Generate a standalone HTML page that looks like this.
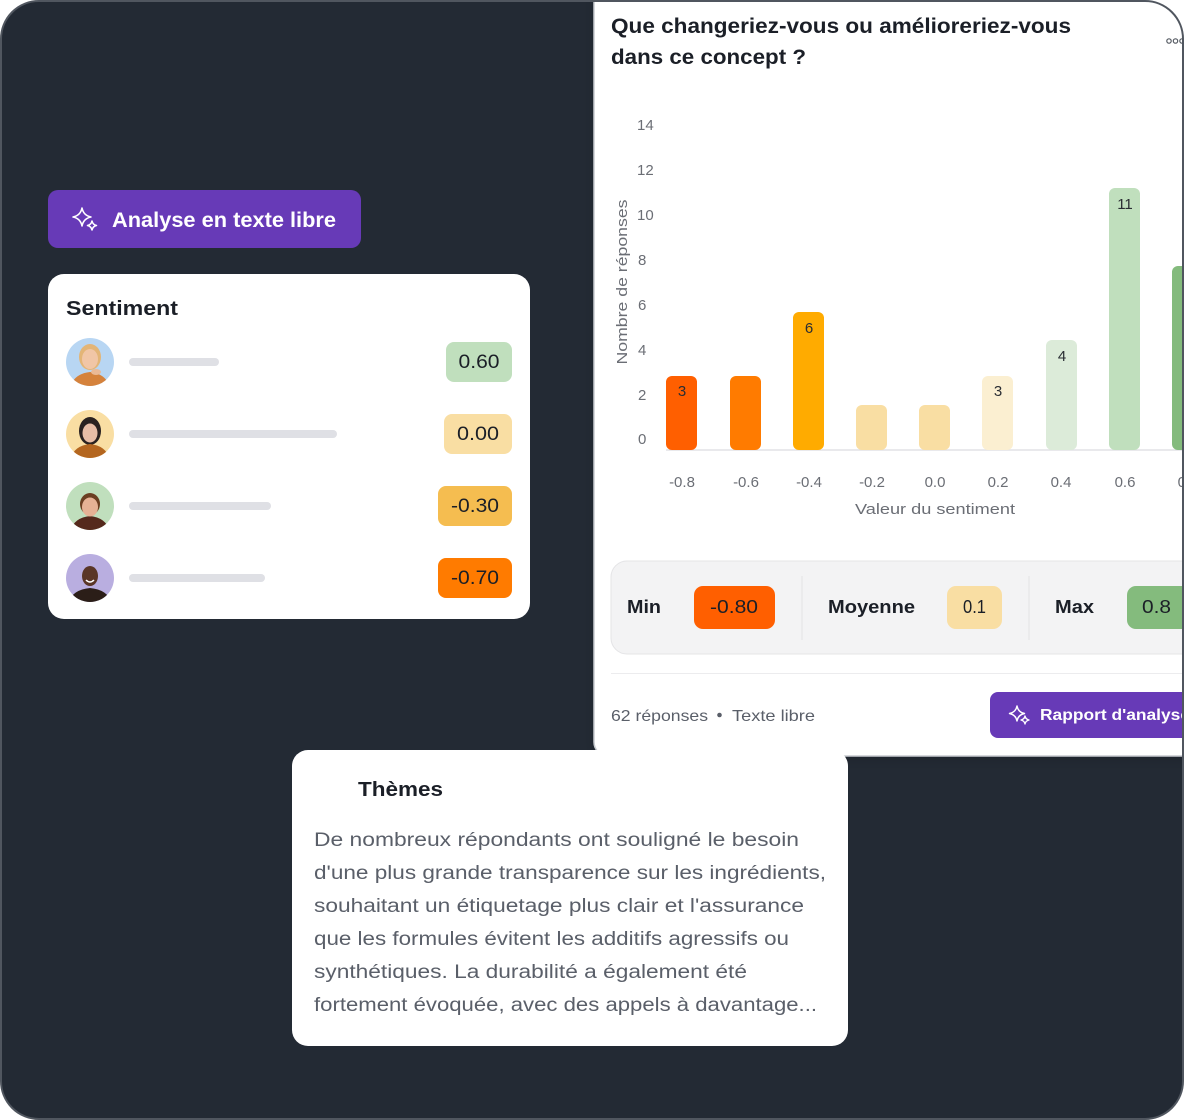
<!DOCTYPE html>
<html><head><meta charset="utf-8"><style>
html,body{margin:0;padding:0;background:#fff;}
svg{display:block;}
text{font-family:"Liberation Sans",sans-serif;}
</style></head><body>
<svg width="1184" height="1120" viewBox="0 0 1184 1120" xmlns="http://www.w3.org/2000/svg">
<defs>
  <clipPath id="frame"><rect x="1" y="1" width="1182" height="1118" rx="38"/></clipPath>
  <clipPath id="av1"><circle cx="90" cy="362" r="24"/></clipPath>
  <clipPath id="av2"><circle cx="90" cy="434" r="24"/></clipPath>
  <clipPath id="av3"><circle cx="90" cy="506" r="24"/></clipPath>
  <clipPath id="av4"><circle cx="90" cy="578" r="24"/></clipPath>
  <filter id="sh" x="-10%" y="-10%" width="120%" height="120%">
    <feDropShadow dx="0" dy="4" stdDeviation="6" flood-color="#000" flood-opacity="0.12"/>
  </filter>
</defs>

<rect x="1" y="1" width="1182" height="1118" rx="38" fill="#232a34"/>
<g clip-path="url(#frame)">

  <!-- Purple button -->
  <rect x="48" y="190" width="313" height="58" rx="10" fill="#673ab7"/>
  <g fill="none" stroke="#fff" stroke-width="1.6" stroke-linejoin="round">
    <path d="M82 208 Q83.5 215.5 91 217 Q83.5 218.5 82 226 Q80.5 218.5 73 217 Q80.5 215.5 82 208 Z"/>
    <path d="M92 221 Q92.8 224.7 96.5 225.5 Q92.8 226.3 92 230 Q91.2 226.3 87.5 225.5 Q91.2 224.7 92 221 Z"/>
  </g>
  <text x="112" y="227" font-size="21" font-weight="700" fill="#fff" textLength="224" lengthAdjust="spacingAndGlyphs">Analyse en texte libre</text>

  <!-- Sentiment card -->
  <rect x="48" y="274" width="482" height="345" rx="16" fill="#fff"/>
  <text x="66" y="315" font-size="20" font-weight="700" fill="#1b1f27" textLength="112" lengthAdjust="spacingAndGlyphs">Sentiment</text>

  <!-- avatar 1 -->
  <g clip-path="url(#av1)">
    <rect x="66" y="338" width="48" height="48" fill="#b8d6f3"/>
    <ellipse cx="90" cy="357" rx="11" ry="13" fill="#e3b577"/>
    <path d="M70 390 Q72 374 90 372 Q108 374 110 390 Z" fill="#d5823c"/>
    <ellipse cx="90" cy="359" rx="8" ry="10" fill="#f1c6a6"/>
    <ellipse cx="96" cy="372" rx="5" ry="3" fill="#eab996"/>
  </g>
  <!-- avatar 2 -->
  <g clip-path="url(#av2)">
    <rect x="66" y="410" width="48" height="48" fill="#f9dea3"/>
    <ellipse cx="90" cy="431" rx="11" ry="14" fill="#2a2220"/>
    <path d="M70 462 Q72 446 90 444 Q108 446 110 462 Z" fill="#b4661f"/>
    <ellipse cx="90" cy="433" rx="7.5" ry="9.5" fill="#e8bea6"/>
  </g>
  <!-- avatar 3 -->
  <g clip-path="url(#av3)">
    <rect x="66" y="482" width="48" height="48" fill="#c0dfbd"/>
    <path d="M70 534 Q72 518 90 516 Q108 518 110 534 Z" fill="#55291c"/>
    <ellipse cx="90" cy="504" rx="10" ry="11" fill="#6b3f22"/>
    <ellipse cx="90" cy="507" rx="8" ry="9.5" fill="#e6b295"/>
  </g>
  <!-- avatar 4 -->
  <g clip-path="url(#av4)">
    <rect x="66" y="554" width="48" height="48" fill="#b9aee0"/>
    <path d="M68 606 Q70 590 90 588 Q110 590 112 606 Z" fill="#2b1e18"/>
    <ellipse cx="90" cy="576" rx="8" ry="10" fill="#5a3627"/>
    <path d="M86 580 Q90 584 94 580" stroke="#fff" stroke-width="1.5" fill="none"/>
  </g>

  <rect x="129" y="358" width="90" height="8" rx="4" fill="#dfe0e5"/>
  <rect x="129" y="430" width="208" height="8" rx="4" fill="#dfe0e5"/>
  <rect x="129" y="502" width="142" height="8" rx="4" fill="#dfe0e5"/>
  <rect x="129" y="574" width="136" height="8" rx="4" fill="#dfe0e5"/>

  <rect x="446" y="342" width="66" height="40" rx="8" fill="#c0dfbd"/>
  <text x="479" y="368" font-size="19" fill="#1b1f27" text-anchor="middle" textLength="41" lengthAdjust="spacingAndGlyphs">0.60</text>
  <rect x="444" y="414" width="68" height="40" rx="8" fill="#f9dea3"/>
  <text x="478" y="440" font-size="19" fill="#1b1f27" text-anchor="middle" textLength="42" lengthAdjust="spacingAndGlyphs">0.00</text>
  <rect x="438" y="486" width="74" height="40" rx="8" fill="#f5bd50"/>
  <text x="475" y="512" font-size="19" fill="#1b1f27" text-anchor="middle" textLength="48" lengthAdjust="spacingAndGlyphs">-0.30</text>
  <rect x="438" y="558" width="74" height="40" rx="8" fill="#ff7b00"/>
  <text x="475" y="584" font-size="19" fill="#1b1f27" text-anchor="middle" textLength="48" lengthAdjust="spacingAndGlyphs">-0.70</text>

  <!-- Chart card -->
  <rect x="594" y="-30" width="640" height="786" rx="14" fill="#fff" stroke="#c8cbd0" stroke-width="1.5" filter="url(#sh)"/>

  <text x="611" y="33" font-size="21" font-weight="700" fill="#1b1f27" textLength="460" lengthAdjust="spacingAndGlyphs">Que changeriez-vous ou amélioreriez-vous</text>
  <text x="611" y="64" font-size="21" font-weight="700" fill="#1b1f27" textLength="195" lengthAdjust="spacingAndGlyphs">dans ce concept ?</text>

  <g fill="none" stroke="#555a62" stroke-width="1.2">
    <circle cx="1169" cy="41" r="2.2"/><circle cx="1175.5" cy="41" r="2.2"/><circle cx="1182" cy="41" r="2.2"/>
  </g>

  <!-- y axis -->
  <g font-size="15" fill="#6b6e75">
    <text x="637" y="130">14</text>
    <text x="637" y="175">12</text>
    <text x="637" y="220">10</text>
    <text x="638" y="265">8</text>
    <text x="638" y="310">6</text>
    <text x="638" y="355">4</text>
    <text x="638" y="400">2</text>
    <text x="638" y="444">0</text>
  </g>
  <text transform="translate(627,282) rotate(-90)" font-size="15" fill="#6b6e75" text-anchor="middle" textLength="165" lengthAdjust="spacingAndGlyphs">Nombre de réponses</text>

  <line x1="666" y1="450" x2="1184" y2="450" stroke="#e2e2e6" stroke-width="1.5"/>

  <rect x="666" y="376" width="31" height="74" rx="6" fill="#ff5f00"/>
  <rect x="730" y="376" width="31" height="74" rx="6" fill="#ff7b00"/>
  <rect x="793" y="312" width="31" height="138" rx="6" fill="#ffab00"/>
  <rect x="856" y="405" width="31" height="45" rx="6" fill="#f9dea3"/>
  <rect x="919" y="405" width="31" height="45" rx="6" fill="#f9dea3"/>
  <rect x="982" y="376" width="31" height="74" rx="6" fill="#fbefd1"/>
  <rect x="1046" y="340" width="31" height="110" rx="6" fill="#dcebd9"/>
  <rect x="1109" y="188" width="31" height="262" rx="6" fill="#c0dfbd"/>
  <rect x="1172" y="266" width="31" height="184" rx="6" fill="#84bb7d"/>

  <g font-size="15" fill="#2a2d33" text-anchor="middle">
    <text x="682" y="396">3</text>
    <text x="809" y="333">6</text>
    <text x="998" y="396">3</text>
    <text x="1062" y="361">4</text>
    <text x="1125" y="209">11</text>
  </g>

  <g font-size="15" fill="#6b6e75" text-anchor="middle">
    <text x="682" y="487">-0.8</text>
    <text x="746" y="487">-0.6</text>
    <text x="809" y="487">-0.4</text>
    <text x="872" y="487">-0.2</text>
    <text x="935" y="487">0.0</text>
    <text x="998" y="487">0.2</text>
    <text x="1061" y="487">0.4</text>
    <text x="1125" y="487">0.6</text>
    <text x="1188" y="487">0.8</text>
  </g>
  <text x="935" y="514" font-size="15" fill="#6b6e75" text-anchor="middle" textLength="160" lengthAdjust="spacingAndGlyphs">Valeur du sentiment</text>

  <!-- Stats box -->
  <rect x="611" y="561" width="620" height="93" rx="16" fill="#f3f3f4" stroke="#e4e4e6" stroke-width="1"/>
  <line x1="802" y1="576" x2="802" y2="640" stroke="#e3e3e5" stroke-width="1"/>
  <line x1="1029" y1="576" x2="1029" y2="640" stroke="#e3e3e5" stroke-width="1"/>
  <text x="627" y="613" font-size="18" font-weight="700" fill="#1b1f27" textLength="34" lengthAdjust="spacingAndGlyphs">Min</text>
  <rect x="694" y="586" width="81" height="43" rx="9" fill="#ff5f00"/>
  <text x="734" y="613" font-size="18" fill="#1b1f27" text-anchor="middle" textLength="48" lengthAdjust="spacingAndGlyphs">-0.80</text>
  <text x="828" y="613" font-size="18" font-weight="700" fill="#1b1f27" textLength="87" lengthAdjust="spacingAndGlyphs">Moyenne</text>
  <rect x="947" y="586" width="55" height="43" rx="9" fill="#f9dea3"/>
  <text x="974.5" y="613" font-size="18" fill="#1b1f27" text-anchor="middle" textLength="23" lengthAdjust="spacingAndGlyphs">0.1</text>
  <text x="1055" y="613" font-size="18" font-weight="700" fill="#1b1f27" textLength="39" lengthAdjust="spacingAndGlyphs">Max</text>
  <rect x="1127" y="586" width="70" height="43" rx="9" fill="#84bb7d"/>
  <text x="1156.5" y="613" font-size="18" fill="#1b1f27" text-anchor="middle" textLength="29" lengthAdjust="spacingAndGlyphs">0.8</text>

  <line x1="611" y1="673.5" x2="1184" y2="673.5" stroke="#ececee" stroke-width="1"/>

  <text x="611" y="721" font-size="16" fill="#5a5f69" textLength="97" lengthAdjust="spacingAndGlyphs">62 réponses</text>
  <circle cx="719.5" cy="715" r="2.3" fill="#5a5f69"/>
  <text x="732" y="721" font-size="16" fill="#5a5f69" textLength="83" lengthAdjust="spacingAndGlyphs">Texte libre</text>

  <rect x="990" y="692" width="240" height="46" rx="8" fill="#673ab7"/>
  <g fill="none" stroke="#fff" stroke-width="1.4" stroke-linejoin="round">
    <path d="M1017 706 Q1018.2 712.3 1024.5 713.5 Q1018.2 714.7 1017 721 Q1015.8 714.7 1009.5 713.5 Q1015.8 712.3 1017 706 Z"/>
    <path d="M1025 716 Q1025.7 719.3 1029 720 Q1025.7 720.7 1025 724 Q1024.3 720.7 1021 720 Q1024.3 719.3 1025 716 Z"/>
  </g>
  <text x="1040" y="720" font-size="16" font-weight="700" fill="#fff" textLength="150" lengthAdjust="spacingAndGlyphs">Rapport d'analyse</text>

  <!-- Themes card -->
  <rect x="292" y="750" width="556" height="296" rx="16" fill="#fff"/>
  <text x="358" y="796" font-size="20" font-weight="700" fill="#1b1f27" textLength="85" lengthAdjust="spacingAndGlyphs">Thèmes</text>
  <g font-size="19" fill="#5a5f69">
    <text x="314" y="846" textLength="485" lengthAdjust="spacingAndGlyphs">De nombreux répondants ont souligné le besoin</text>
    <text x="314" y="879" textLength="512" lengthAdjust="spacingAndGlyphs">d'une plus grande transparence sur les ingrédients,</text>
    <text x="314" y="912" textLength="490" lengthAdjust="spacingAndGlyphs">souhaitant un étiquetage plus clair et l'assurance</text>
    <text x="314" y="945" textLength="475" lengthAdjust="spacingAndGlyphs">que les formules évitent les additifs agressifs ou</text>
    <text x="314" y="978" textLength="433" lengthAdjust="spacingAndGlyphs">synthétiques. La durabilité a également été</text>
    <text x="314" y="1011" textLength="503" lengthAdjust="spacingAndGlyphs">fortement évoquée, avec des appels à davantage...</text>
  </g>
</g>
<rect x="1" y="1" width="1182" height="1118" rx="38" fill="none" stroke="#50565f" stroke-width="2"/>
</svg>
</body></html>
